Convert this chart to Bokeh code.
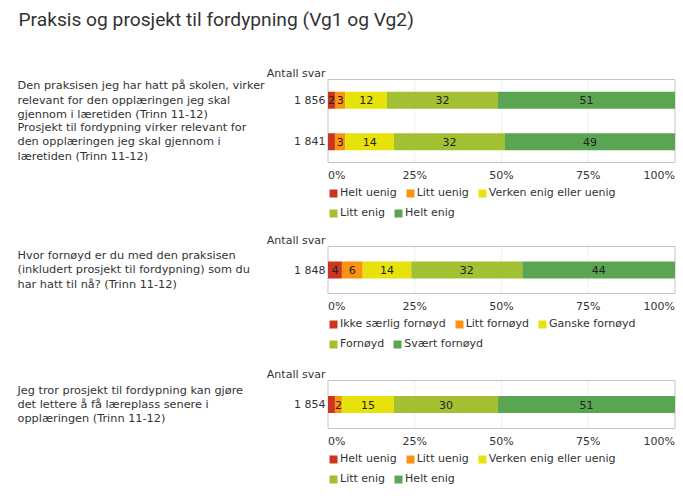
import numpy as np
from bokeh.plotting import figure
from bokeh.models import Range1d, Legend, LegendItem
from bokeh.layouts import column
from bokeh.core.properties import value
from bokeh.embed import file_html
from bokeh.resources import INLINE

# ---------------- data ----------------
title = "Praksis og prosjekt til fordypning (Vg1 og Vg2)"
count_header = "Antall svar"
axis_ticks = [0, 25, 50, 75, 100]
axis_tick_labels = ["0%", "25%", "50%", "75%", "100%"]

colors = ["#c9361f", "#fb9213", "#e7e20b", "#a2c032", "#5aa552"]

# Panel 1
p1_questions = [
    "Den praksisen jeg har hatt på skolen, virker\nrelevant for den opplæringen jeg skal\ngjennom i læretiden (Trinn 11-12)",
    "Prosjekt til fordypning virker relevant for\nden opplæringen jeg skal gjennom i\nlæretiden (Trinn 11-12)",
]
p1_counts = ["1 856", "1 841"]
p1_categories = ["Helt uenig", "Litt uenig", "Verken enig eller uenig", "Litt enig", "Helt enig"]
p1_helt_uenig = [2, 2]
p1_litt_uenig = [3, 3]
p1_verken = [12, 14]
p1_litt_enig = [32, 32]
p1_helt_enig = [51, 49]
p1_shown = [[True, False], [True, True], [True, True], [True, True], [True, True]]

# Panel 2
p2_questions = [
    "Hvor fornøyd er du med den praksisen\n(inkludert prosjekt til fordypning) som du\nhar hatt til nå? (Trinn 11-12)",
]
p2_counts = ["1 848"]
p2_categories = ["Ikke særlig fornøyd", "Litt fornøyd", "Ganske fornøyd", "Fornøyd", "Svært fornøyd"]
p2_ikke_saerlig = [4]
p2_litt = [6]
p2_ganske = [14]
p2_fornoyd = [32]
p2_svaert = [44]
p2_shown = [[True], [True], [True], [True], [True]]

# Panel 3
p3_questions = [
    "Jeg tror prosjekt til fordypning kan gjøre\ndet lettere å få læreplass senere i\nopplæringen (Trinn 11-12)",
]
p3_counts = ["1 854"]
p3_categories = ["Helt uenig", "Litt uenig", "Verken enig eller uenig", "Litt enig", "Helt enig"]
p3_helt_uenig = [2]
p3_litt_uenig = [2]
p3_verken = [15]
p3_litt_enig = [30]
p3_helt_enig = [51]
p3_shown = [[False], [True], [True], [True], [True]]

# ---------------- layout / style ----------------
FONT = "DejaVu Sans"
TXT = "#333333"
W = 683
FRAME_L = 327.5
FRAME_R = 674.5
X0, X1 = axis_ticks[0], axis_ticks[-1]
PX_PER_UNIT = (FRAME_R - FRAME_L) / (X1 - X0)


def xd(px):
    return X0 + (px - FRAME_L) / PX_PER_UNIT


def make_panel(questions, counts, categories, series, shown, height, ftop, fbot, bar_px,
               with_title=False):
    n = len(questions)
    band = (fbot - ftop) / n

    def yd(py):
        return -0.5 + (py - ftop) / band

    p = figure(width=W, height=height, x_range=Range1d(xd(0), xd(W)),
               y_range=Range1d(yd(height), yd(0)),
               x_axis_location=None, y_axis_location=None, toolbar_location=None, tools="",
               output_backend="svg", min_border=0, outline_line_color=None)
    p.xgrid.visible = False
    p.ygrid.visible = False

    # frame box and dashed grid
    p.segment(x0=axis_ticks[1:-1], x1=axis_ticks[1:-1], y0=[-0.5] * 3, y1=[n - 0.5] * 3,
              line_color="#e0e0e0", line_width=1, line_dash="2 2")
    p.quad(left=[X0], right=[X1], top=[-0.5], bottom=[n - 0.5], fill_color=None,
           line_color="#c4c4c4", line_width=1)

    rows = list(range(n))
    vals = np.array(series, dtype=float)
    right = np.cumsum(vals, axis=0)
    left = right - vals
    renderers = []
    lx, ly, lt = [], [], []
    for k in range(len(series)):
        r = p.hbar(y=rows, left=left[k], right=right[k], height=bar_px / band,
                   fill_color=colors[k], line_color=None)
        renderers.append(r)
        for i in rows:
            if shown[k][i]:
                lx.append((left[k][i] + right[k][i]) / 2)
                ly.append(i)
                lt.append(str(int(vals[k][i])))
    p.text(x=lx, y=ly, text=lt, text_align="center", text_baseline="middle",
           text_font=value(FONT), text_font_size="11px", text_color="#222222")

    # questions and counts
    p.text(x=[xd(17)] * n, y=rows, text=questions, text_align="left", text_baseline="middle",
           text_font=value(FONT), text_font_size="11.3px", text_color=TXT, text_line_height=1.1)
    p.text(x=[xd(325)] * n, y=rows, text=counts, text_align="right", text_baseline="middle",
           text_font=value(FONT), text_font_size="11px", text_color=TXT)
    p.text(x=[xd(325)], y=[yd(ftop - 6.5)], text=[count_header], text_align="right",
           text_baseline="middle", text_font=value(FONT), text_font_size="11px", text_color=TXT)

    # tick labels
    p.text(x=axis_ticks, y=[yd(fbot + 13)] * len(axis_ticks), text=axis_tick_labels,
           text_align=["left", "center", "center", "center", "right"], text_baseline="middle",
           text_font=value(FONT), text_font_size="11px", text_color=TXT)

    # legends (two rows)
    items = [LegendItem(label=categories[k], renderers=[renderers[k]]) for k in range(len(series))]
    lh = 13
    for row_items, yc in ((items[:3], fbot + 30.5), (items[3:], fbot + 50.5)):
        lg = Legend(items=row_items, orientation="horizontal",
                    location=(FRAME_L + 0.5, height - yc - lh / 2),
                    glyph_width=10, glyph_height=10, label_standoff=2, spacing=8,
                    padding=0, margin=0, border_line_alpha=0, background_fill_alpha=0,
                    label_text_font=FONT, label_text_font_size="11px", label_text_color=TXT,
                    label_height=lh, label_text_baseline="middle")
        p.add_layout(lg)

    if with_title:
        p.text(x=[xd(18)], y=[yd(19)], text=[title], text_align="left",
               text_baseline="alphabetic", text_font=value("Roboto"), text_font_size="19.2px",
               text_color="#333333")
    return p


p1 = make_panel(p1_questions, p1_counts, p1_categories,
                [p1_helt_uenig, p1_litt_uenig, p1_verken, p1_litt_enig, p1_helt_enig],
                p1_shown, height=225, ftop=79, fbot=162, bar_px=17, with_title=True)
p2 = make_panel(p2_questions, p2_counts, p2_categories,
                [p2_ikke_saerlig, p2_litt, p2_ganske, p2_fornoyd, p2_svaert],
                p2_shown, height=133, ftop=21, fbot=68, bar_px=17)
p3 = make_panel(p3_questions, p3_counts, p3_categories,
                [p3_helt_uenig, p3_litt_uenig, p3_verken, p3_litt_enig, p3_helt_enig],
                p3_shown, height=140, ftop=22, fbot=70, bar_px=17)

layout = column(p1, p2, p3, spacing=0)
open("out.html", "w").write(file_html(layout, INLINE))
